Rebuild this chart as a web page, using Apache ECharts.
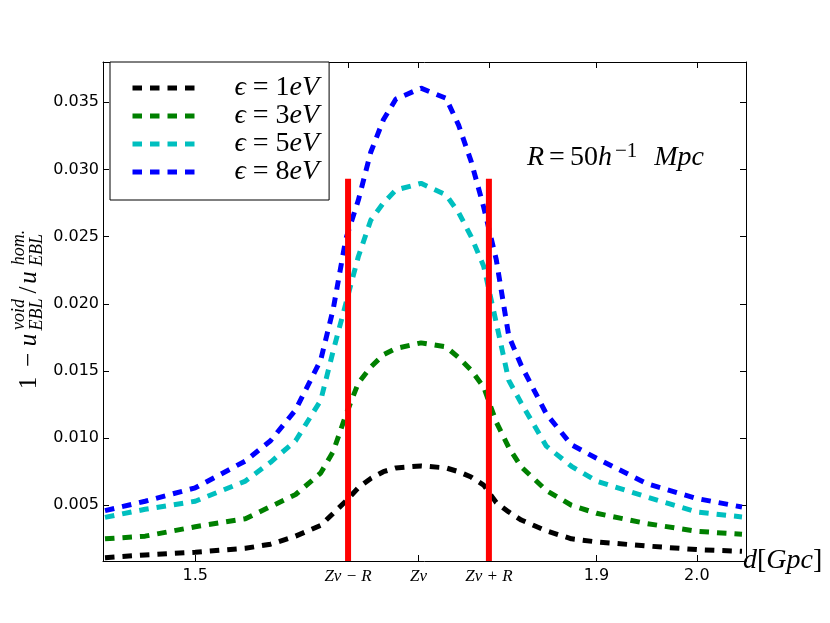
<!DOCTYPE html>
<html>
<head>
<meta charset="utf-8">
<script src="https://cdn.jsdelivr.net/npm/echarts@6.0.0/dist/echarts.min.js"></script>
<style>
html, body { margin: 0; padding: 0; background: #fff; }
#chart { width: 830px; height: 623px; }
</style>
</head>
<body>
<div id="chart"></div>
<script>
// distance d [Gpc]
var xs = [1.41, 1.45, 1.50, 1.55, 1.575, 1.60, 1.625, 1.6375, 1.65, 1.6625, 1.675, 1.6875, 1.70, 1.725, 1.75, 1.7625, 1.775, 1.7875, 1.80, 1.8125, 1.825, 1.85, 1.875, 1.90, 1.95, 2.00, 2.045];
// 1 - u_void / u_hom for each photon energy
var eps1 = [0.0011, 0.0013, 0.0015, 0.0018, 0.0021, 0.0027, 0.0035, 0.0044, 0.0053, 0.0063, 0.0070, 0.0075, 0.00778, 0.00793, 0.00778, 0.0075, 0.0071, 0.0065, 0.0052, 0.0045, 0.0039, 0.0031, 0.0025, 0.00227, 0.00197, 0.0017, 0.00157];
var eps3 = [0.0025, 0.0027, 0.0034, 0.0040, 0.0049, 0.0058, 0.0074, 0.0090, 0.0117, 0.0141, 0.0153, 0.0162, 0.01667, 0.01709, 0.01679, 0.0160, 0.01506, 0.0138, 0.0112, 0.0093, 0.00785, 0.0061, 0.0050, 0.0044, 0.00364, 0.00306, 0.00284];
var eps5 = [0.0041, 0.0047, 0.0053, 0.0068, 0.0082, 0.0098, 0.0128, 0.0165, 0.0200, 0.0235, 0.02624, 0.0275, 0.02847, 0.02897, 0.0281, 0.0268, 0.025, 0.0228, 0.0186, 0.0143, 0.0126, 0.0094, 0.0079, 0.0068, 0.00562, 0.0045, 0.00413];
var eps8 = [0.0046, 0.0053, 0.0063, 0.0083, 0.0098, 0.0121, 0.0158, 0.0196, 0.0248, 0.0277, 0.0313, 0.0337, 0.03524, 0.03605, 0.0353, 0.0333, 0.0306, 0.0272, 0.0233, 0.0176, 0.0154, 0.0118, 0.0095, 0.0085, 0.00662, 0.0055, 0.00487];
var seriesNames = ['ϵ=1eV', 'ϵ=3eV', 'ϵ=5eV', 'ϵ=8eV'];

// void centre and radius
var zv = 1.7225;
var rVoid = 0.0702;
var redTop = 0.0293;

// axis ticks
var xTickVals = [1.5, zv - rVoid, zv, zv + rVoid, 1.9, 2.0];
var xTickText = ['1.5', 'Zv − R', 'Zv', 'Zv + R', '1.9', '2.0'];
var xMin = 1.408, xMax = 2.049;
var yMin = 0.00085, yMax = 0.038;

var serif = 'Liberation Serif, DejaVu Serif, serif';
var colors = ['#000000', '#008000', '#00bfbf', '#0000ff'];
var allData = [eps1, eps3, eps5, eps8];

function pairs(ys) {
	return xs.map(function (x, i) { return [x, ys[i]]; });
}

var series = allData.map(function (ys, k) {
	return {
		name: seriesNames[k],
		type: 'line',
		data: pairs(ys),
		symbol: 'none',
		showSymbol: false,
		z: 2 + k,
		lineStyle: { color: colors[k], width: 5, type: [9.5, 8], cap: 'butt' },
		itemStyle: { color: colors[k] }
	};
});

[zv - rVoid, zv + rVoid].forEach(function (x) {
	series.push({
		type: 'line',
		data: [[x, yMin], [x, redTop]],
		symbol: 'none',
		z: 10,
		lineStyle: { color: '#ff0000', width: 6, cap: 'butt' }
	});
});

var frameLine = { show: true, onZero: false, lineStyle: { color: '#000', width: 1 } };
var tick = { show: true, inside: true, length: 6, lineStyle: { color: '#000', width: 1 } };

var chart = echarts.init(document.getElementById('chart'), null, { renderer: 'canvas' });
chart.setOption({
	animation: false,
	backgroundColor: '#fff',
	grid: { left: 103, right: 84, top: 62, bottom: 62, containLabel: false, outerBoundsMode: 'none' },
	legend: {
		data: seriesNames,
		orient: 'vertical',
		left: 110,
		top: 62,
		itemWidth: 70,
		itemHeight: 14,
		itemGap: 0,
		padding: [12, 10, 14, 20],
		borderColor: '#000',
		borderWidth: 1,
		borderRadius: 0,
		backgroundColor: '#fff',
		selectedMode: false,
		lineStyle: { width: 5 },
		itemStyle: { color: 'rgba(0,0,0,0)', borderWidth: 0, opacity: 0 },
		formatter: function (name) {
			var digit = name.replace(/[^0-9]/g, '');
			return '{g| }{e|ϵ}{s| }{n|=}{s| }{n|' + digit + '}{i|eV}';
		},
		textStyle: {
			color: '#000',
			rich: {
				g: { width: 27, lineHeight: 27 },
				s: { width: 7, lineHeight: 27 },
				e: { fontFamily: serif, fontStyle: 'italic', fontSize: 28, lineHeight: 27 },
				n: { fontFamily: serif, fontSize: 28, lineHeight: 27 },
				i: { fontFamily: serif, fontStyle: 'italic', fontSize: 28, lineHeight: 27 }
			}
		}
	},
	xAxis: [{
		type: 'value',
		min: xMin,
		max: xMax,
		position: 'bottom',
		axisLine: frameLine,
		axisTick: Object.assign({ customValues: xTickVals }, tick),
		splitLine: { show: false },
		axisLabel: {
			customValues: xTickVals,
			margin: 7,
			formatter: function (v) {
				for (var i = 0; i < xTickVals.length; i++) {
					if (Math.abs(xTickVals[i] - v) < 1e-6) {
						var t = xTickText[i];
						return t.charAt(0) === 'Z' ? '{m|' + t + '}' : '{s|' + t + '}';
					}
				}
				return '';
			},
			rich: {
				s: { fontFamily: 'DejaVu Sans', fontSize: 16, color: '#000' },
				m: { fontFamily: serif, fontStyle: 'italic', fontSize: 17, color: '#000' }
			}
		},
		name: '{i|d}{n|[}{i|Gpc}{n|]}',
		nameLocation: 'end',
		nameGap: -3,
		nameTextStyle: {
			color: '#000',
			rich: {
				i: { fontFamily: serif, fontStyle: 'italic', fontSize: 28 },
				n: { fontFamily: serif, fontSize: 28 }
			}
		}
	}, {
		type: 'value',
		min: xMin,
		max: xMax,
		position: 'top',
		axisLine: frameLine,
		axisTick: Object.assign({ customValues: xTickVals }, tick),
		axisLabel: { show: false },
		splitLine: { show: false }
	}],
	yAxis: [{
		type: 'value',
		min: yMin,
		max: yMax,
		splitNumber: 7,
		position: 'left',
		axisLine: frameLine,
		axisTick: tick,
		splitLine: { show: false },
		axisLabel: {
			showMinLabel: false,
			showMaxLabel: false,
			margin: 4,
			fontFamily: 'DejaVu Sans',
			fontSize: 16,
			color: '#000',
			formatter: function (v) { return v.toFixed(3); }
		}
	}, {
		type: 'value',
		min: yMin,
		max: yMax,
		splitNumber: 7,
		position: 'right',
		axisLine: frameLine,
		axisTick: tick,
		splitLine: { show: false },
		axisLabel: { show: false }
	}],
	graphic: [{
		type: 'text',
		x: 527,
		y: 158,
		style: {
			text: '{i|R}{g| }{n|=}{g| }{n|50}{i|h}{p|−1}{w| }{i|Mpc}',
			fill: '#000',
			textVerticalAlign: 'middle',
			verticalAlign: 'middle',
			rich: {
				i: { fontFamily: serif, fontStyle: 'italic', fontSize: 28, lineHeight: 34 },
				n: { fontFamily: serif, fontSize: 28, lineHeight: 34 },
				g: { width: 5, lineHeight: 34 },
				w: { width: 17, lineHeight: 34 },
				p: { fontFamily: serif, fontSize: 21, lineHeight: 20, verticalAlign: 'top', padding: [0, 0, 0, 3] }
			}
		}
	}, {
		type: 'group',
		x: 29,
		y: 393,
		rotation: Math.PI / 2,
		children: [
			{ t: '1', x: 10, y: 0, it: false, s: 25 },
			{ t: '−', x: 33, y: 0, it: false, s: 25 },
			{ t: 'u', x: 53, y: 0, it: true, s: 25 },
			{ t: 'void', x: 78.5, y: -10, it: true, s: 18 },
			{ t: 'EBL', x: 78.5, y: 8.5, it: true, s: 18 },
			{ t: '/', x: 103, y: 0, it: false, s: 25 },
			{ t: 'u', x: 115.5, y: 0, it: true, s: 25 },
			{ t: 'hom.', x: 145.5, y: -10, it: true, s: 18 },
			{ t: 'EBL', x: 143, y: 8.5, it: true, s: 18 }
		].map(function (p) {
			return {
				type: 'text',
				x: p.x,
				y: p.y,
				style: {
					text: p.t,
					fill: '#000',
					font: (p.it ? 'italic ' : '') + p.s + 'px ' + serif,
					textAlign: 'center',
					align: 'center',
					textVerticalAlign: 'middle',
					verticalAlign: 'middle'
				}
			};
		})
	}],
	series: series
});
</script>
</body>
</html>
